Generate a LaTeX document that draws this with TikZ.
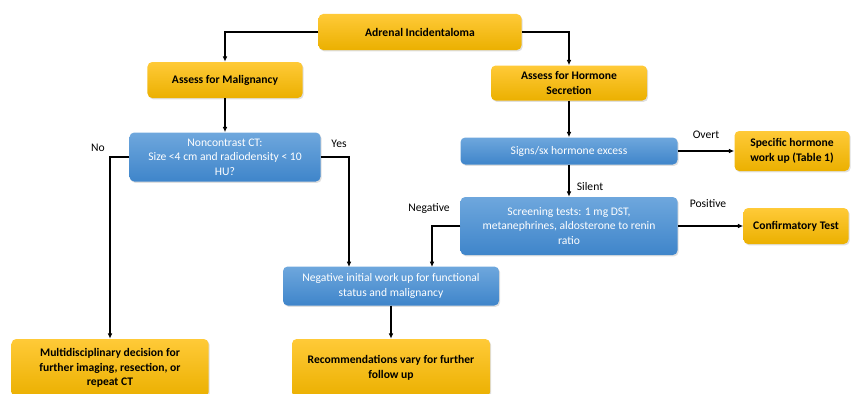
\documentclass[tikz,border=0pt]{standalone}
\usepackage{fontspec}
\setmainfont{Carlito}
\usetikzlibrary{arrows.meta,shadows}
\definecolor{goldtop}{HTML}{FFCA38}
\definecolor{goldbot}{HTML}{EBB000}
\definecolor{bluetop}{HTML}{6EA7DD}
\definecolor{bluebot}{HTML}{3F85CA}
\tikzset{
  goldbox/.style={rounded corners=4pt, top color=goldtop, bottom color=goldbot,
    font=\fontsize{9.9}{12.3}\selectfont\bfseries, align=center, inner sep=2pt,
    drop shadow={opacity=0.25, shadow xshift=1pt, shadow yshift=-1.2pt}},
  bluebox/.style={rounded corners=4pt, top color=bluetop, bottom color=bluebot,
    text=white, font=\fontsize{9.9}{12.3}\selectfont, align=center, inner sep=2pt,
    drop shadow={opacity=0.25, shadow xshift=1pt, shadow yshift=-1.2pt}},
  link/.style={line width=0.9pt, -{Latex[length=1.6mm,width=1.4mm]}},
  lbl/.style={font=\fontsize{9.9}{12}\selectfont},
}
\begin{document}
\begin{tikzpicture}[x=0.03cm,y=-0.03cm]
			%%%%% START %%%%%
			\useasboundingbox (0,0) rectangle (851,393);
			
			\node[goldbox, minimum width=6.09cm, minimum height=1.08cm] (adrenal) at (420,32) {Adrenal Incidentaloma};
			\node[goldbox, minimum width=4.65cm, minimum height=1.08cm] (malig) at (225,80) {Assess for Malignancy};
			\node[goldbox, minimum width=4.68cm, minimum height=1.05cm] (hormone) at (569,83) {Assess for Hormone\\Secretion};
			
			\node[bluebox, minimum width=5.73cm, minimum height=1.47cm] (ct) at (225,157) {Noncontrast CT:\\Size <4 cm and radiodensity < 10\\HU?};
			\node[bluebox, minimum width=6.51cm, minimum height=0.81cm] (signs) at (569,151) {Signs/sx hormone excess};
			\node[goldbox, minimum width=3.45cm, minimum height=1.2cm] (specific) at (792,151) {Specific hormone\\work up (Table 1)};
			
			\node[bluebox, minimum width=6.51cm, minimum height=1.74cm] (screen) at (569,226) {Screening tests: 1 mg DST,\\metanephrines, aldosterone to renin\\ratio};
			\node[goldbox, minimum width=3.15cm, minimum height=1.08cm] (confirm) at (796,226) {Confirmatory Test};
			
			\node[bluebox, minimum width=6.48cm, minimum height=1.17cm] (negwork) at (391,286) {Negative initial work up for functional\\status and malignancy};
			
			\node[goldbox, minimum width=5.91cm, minimum height=1.74cm] (multi) at (110,368) {Multidisciplinary decision for\\further imaging, resection, or\\repeat CT};
			\node[goldbox, minimum width=5.94cm, minimum height=1.74cm] (recomm) at (391,368) {Recommendations vary for further\\follow up};
			
			\coordinate (yesin) at (349,267);
			\coordinate (negin) at (432,267);
			
			\draw[link] (adrenal.west) -| (malig.north);
			\draw[link] (adrenal.east) -| (hormone.north);
			\draw[link] (malig) -- (ct);
			\draw[link] (hormone) -- (signs);
			\draw[link] (ct.west) -| (multi.north);
			\draw[link] (ct.east) -| (yesin);
			\draw[link] (signs) -- (specific);
			\draw[link] (signs) -- (screen);
			\draw[link] (screen.west) -| (negin);
			\draw[link] (screen) -- (confirm);
			\draw[link] (negwork) -- (recomm);
			
			\node[lbl] (no) at (98,148) {No};
			\node[lbl] (yes) at (339,144) {Yes};
			\node[lbl] (overt) at (706,135) {Overt};
			\node[lbl] (silent) at (590,187) {Silent};
			\node[lbl] (negative) at (429,208) {Negative};
			\node[lbl] (positive) at (708,204) {Positive};
			%%%%% END %%%%%
\end{tikzpicture}
\end{document}
